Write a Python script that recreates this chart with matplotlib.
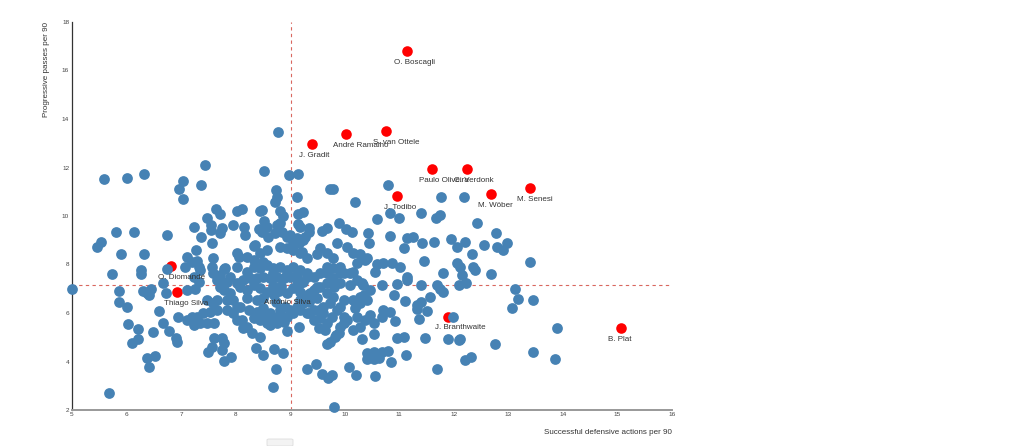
import matplotlib
matplotlib.use("Agg")
import matplotlib.pyplot as plt
from matplotlib.patches import FancyBboxPatch

plt.rcParams['font.family'] = ['Liberation Sans', 'DejaVu Sans']

x_label = "Successful defensive actions per 90"
y_label = "Progressive passes per 90"
x_ticks = list(range(5, 17))
y_ticks = list(range(2, 19, 2))
x_avg = 9.02
y_avg = 7.15

highlight_names = ['O. Boscagli', 'S. van Ottele', 'André Ramalho', 'J. Gradit',
                   'Paulo Oliveira', 'C. Verdonk', 'M. Senesi', 'M. Wöber',
                   'J. Todibo', 'O. Diomandé', 'Thiago Silva', 'António Silva',
                   'J. Branthwaite', 'B. Plat']
highlight_x = [11.15, 10.76, 10.03, 9.40, 11.60, 12.25, 13.40, 12.69,
               10.96, 6.82, 6.93, 8.76, 11.90, 15.06]
highlight_y = [16.80, 13.50, 13.38, 12.97, 11.94, 11.94, 11.15, 10.90,
               10.82, 7.94, 6.87, 6.90, 5.84, 5.38]

# other players: (defensive actions, progressive passes)
players_left = [
    (5.00, 6.99), (5.59, 11.51), (6.01, 11.58), (6.32, 11.72), (7.43, 12.09), (8.52, 11.86), (7.04, 11.46), (6.96, 11.13), (7.36, 11.27), (7.04, 10.71),
    (7.64, 10.28), (7.72, 10.08), (7.47, 9.93), (8.02, 10.19), (8.11, 10.30), (8.45, 10.22), (8.52, 9.78), (7.96, 9.64), (8.16, 9.56), (8.17, 9.22),
    (8.43, 9.45), (7.55, 9.62), (7.75, 9.49), (7.54, 9.42), (7.72, 9.31), (7.24, 9.56), (7.37, 9.12), (7.56, 8.90), (7.28, 8.60), (7.10, 8.32),
    (7.29, 8.16), (7.58, 8.27), (8.02, 8.46), (8.06, 8.32), (8.34, 8.76), (8.45, 8.46), (6.75, 9.22), (5.81, 9.35), (6.14, 9.35), (5.45, 8.71),
    (5.54, 8.94), (5.89, 8.43), (6.32, 8.43), (5.74, 7.60), (6.26, 7.77), (6.27, 7.61), (6.75, 7.80), (7.07, 7.88), (7.32, 7.91), (7.79, 7.83),
    (7.59, 7.64), (8.02, 7.91), (6.66, 7.25), (6.72, 6.81), (7.25, 7.00), (5.86, 6.89), (5.86, 6.47), (6.00, 6.26), (6.37, 6.81), (6.44, 6.98),
    (6.42, 6.73), (6.31, 6.89), (6.60, 6.10), (6.66, 5.58), (6.77, 5.26), (6.91, 4.96), (6.92, 4.82), (6.03, 5.53), (6.21, 5.33), (6.21, 4.92),
    (6.10, 4.78), (6.48, 5.23), (6.37, 4.13), (6.52, 4.23), (6.42, 3.79), (5.68, 2.69), (6.95, 5.82), (7.10, 5.71), (7.23, 5.50), (7.35, 5.58),
    (7.61, 5.58), (7.61, 4.96), (7.75, 4.98), (7.78, 4.78), (7.50, 4.40), (7.56, 4.58), (7.75, 4.47), (7.78, 4.03), (7.91, 4.17), (8.38, 4.57),
    (8.50, 4.27), (7.59, 6.40), (7.65, 6.12), (7.84, 6.12), (7.41, 5.99), (7.29, 5.85), (8.02, 5.71), (8.14, 5.37), (8.30, 5.16), (8.45, 5.02),
]
players_upper = [
    (7.96, 5.99), (8.78, 13.46), (8.97, 11.69), (9.15, 11.73), (8.74, 11.07), (8.76, 10.77), (8.72, 10.59), (9.13, 10.77), (8.49, 10.25), (8.82, 10.22),
    (8.87, 10.00), (9.15, 10.08), (9.24, 10.16), (8.82, 9.72), (8.76, 9.63), (9.15, 9.67), (9.18, 9.56), (9.35, 9.49), (8.57, 9.56), (8.48, 9.35),
    (9.73, 11.13), (9.78, 11.10), (10.19, 10.57), (10.80, 11.28), (10.59, 9.89), (10.83, 10.14), (10.99, 9.91), (11.39, 10.14), (11.68, 9.91), (11.75, 10.04),
    (11.77, 10.80), (12.19, 10.80), (9.89, 9.70), (10.03, 9.46), (10.13, 9.33), (9.58, 9.39), (9.67, 9.49), (9.86, 8.90), (10.42, 9.29), (10.44, 8.90),
    (10.83, 9.16), (11.14, 9.08), (11.26, 9.12), (11.08, 8.67), (11.42, 8.87), (11.45, 8.16), (11.64, 8.94), (11.94, 9.04), (12.06, 8.73), (12.21, 8.94),
    (12.06, 8.07), (11.81, 7.66), (11.14, 7.50), (9.50, 8.43), (9.21, 8.53), (8.94, 8.67), (8.82, 8.73), (9.00, 9.22), (9.12, 9.08), (9.24, 9.01),
    (10.28, 8.43), (10.41, 8.26), (10.22, 8.07), (9.67, 7.91), (9.92, 7.91), (9.98, 7.64), (10.16, 7.70), (10.59, 8.02), (10.71, 8.05), (10.87, 8.05),
    (11.02, 7.91), (9.55, 7.64), (12.43, 9.70), (12.77, 9.31), (12.56, 8.82), (12.79, 8.73), (12.90, 8.60), (12.97, 8.90), (12.33, 8.43), (13.39, 8.12),
    (12.36, 7.91), (12.12, 7.91), (12.69, 7.60), (12.15, 7.57), (12.38, 7.77), (12.23, 7.25), (13.13, 6.99), (13.18, 6.59), (13.06, 6.19), (13.45, 6.54),
    (13.90, 5.39), (12.75, 4.72), (12.12, 4.92), (12.21, 4.08), (12.31, 4.17), (13.45, 4.38), (13.86, 4.10), (8.95, 5.26), (9.17, 5.44), (8.71, 4.50),
]
players_lower = [
    (8.87, 4.34), (8.74, 3.70), (8.69, 2.96), (9.80, 2.14), (9.31, 3.69), (9.48, 3.90), (9.58, 3.47), (9.70, 3.31), (9.76, 3.44), (10.07, 3.79),
    (10.21, 3.43), (10.56, 3.40), (9.67, 4.72), (9.84, 5.09), (9.90, 5.19), (10.32, 4.92), (10.53, 5.12), (10.41, 4.34), (10.41, 4.09), (10.53, 4.40),
    (10.62, 4.31), (10.68, 4.40), (10.79, 4.43), (10.85, 3.99), (10.53, 4.09), (10.62, 4.13), (11.13, 4.27), (11.09, 5.02), (11.48, 4.96), (11.69, 3.68),
    (11.89, 4.93), (12.09, 4.89), (11.98, 5.82), (10.90, 6.74), (11.11, 6.51), (11.33, 6.15), (11.36, 5.74), (11.51, 6.08), (11.33, 6.33), (11.39, 6.47),
    (11.57, 6.67), (11.75, 7.01), (12.09, 7.16), (11.69, 7.16), (11.39, 7.16), (11.14, 7.36), (10.96, 7.20), (10.68, 7.16), (10.56, 7.70), (10.71, 6.12),
    (10.83, 6.05), (10.93, 5.68), (10.68, 5.85), (10.22, 5.85), (10.47, 5.92), (10.53, 5.58), (10.28, 5.44), (10.16, 5.30), (9.98, 5.58), (10.04, 5.71),
    (9.83, 5.02), (9.92, 5.44), (9.52, 5.37), (9.67, 5.58), (9.55, 5.78), (9.43, 5.71), (9.34, 5.99), (9.61, 5.99), (9.76, 5.85), (9.86, 6.12),
    (9.98, 5.85), (8.51, 5.99), (8.63, 5.85), (8.76, 5.85), (8.82, 6.12), (8.91, 6.26), (8.51, 7.50), (8.69, 7.64), (8.94, 7.64), (9.12, 7.57),
    (9.30, 7.50), (9.18, 7.23), (9.37, 6.81), (9.49, 7.09), (9.67, 7.23), (9.79, 7.43), (9.67, 7.64), (9.92, 7.64), (10.10, 7.64), (10.34, 7.16),
    (10.47, 6.95), (10.28, 6.67), (10.16, 6.54), (9.98, 6.54), (9.79, 6.67), (9.67, 6.81), (9.73, 6.40), (9.92, 6.26), (9.61, 6.26), (9.43, 6.12),
    (9.24, 6.40), (9.06, 5.99), (9.12, 6.26), (8.57, 5.58), (8.45, 5.71), (8.69, 5.71), (11.81, 6.86), (10.38, 8.19), (10.32, 7.23), (10.10, 7.16),
]
players_center = [
    (9.92, 7.23), (9.80, 7.09), (10.96, 4.96), (9.73, 4.82), (8.60, 9.15), (8.72, 9.29), (8.85, 9.35), (8.94, 9.15), (9.06, 8.94), (9.17, 8.87),
    (9.28, 9.15), (9.34, 9.35), (8.36, 8.80), (8.57, 8.60), (9.06, 8.60), (9.18, 8.46), (9.31, 8.26), (8.51, 8.12), (8.33, 8.19), (8.20, 8.32),
    (8.20, 7.70), (8.33, 7.91), (8.45, 7.84), (8.57, 7.98), (8.69, 7.84), (8.82, 7.91), (8.94, 7.77), (9.06, 7.91), (9.18, 7.77), (9.31, 7.64),
    (9.43, 7.50), (8.14, 7.36), (8.27, 7.43), (8.39, 7.43), (8.63, 7.43), (8.76, 7.50), (8.88, 7.43), (9.00, 7.50), (9.12, 7.36), (9.24, 7.29),
    (8.08, 7.09), (8.20, 6.95), (8.33, 7.16), (8.45, 7.02), (8.57, 6.88), (8.94, 6.81), (9.06, 7.02), (9.18, 6.88), (9.31, 6.74), (9.43, 6.95),
    (9.55, 7.09), (8.20, 6.60), (8.39, 6.54), (8.51, 6.60), (9.18, 6.54), (9.34, 6.47), (9.49, 6.60), (8.08, 6.26), (8.24, 6.12), (8.39, 6.05),
    (8.51, 6.19), (8.63, 5.99), (8.82, 5.92), (9.00, 6.12), (9.18, 6.12), (9.31, 5.99), (8.33, 5.78), (8.51, 5.78), (8.94, 5.85), (7.81, 7.84),
    (7.72, 7.57), (7.84, 7.29), (7.78, 6.95), (7.90, 6.81), (7.84, 6.54), (7.96, 6.54), (8.02, 6.26), (8.11, 5.71), (8.20, 5.44), (7.56, 7.91),
    (7.65, 7.36), (7.78, 7.23), (7.20, 8.12), (7.35, 7.77), (7.23, 7.50), (7.32, 7.29), (7.10, 6.95), (7.47, 5.58), (8.63, 5.50), (8.76, 5.58),
    (8.88, 5.64), (7.20, 5.85), (7.53, 6.05), (7.47, 6.54), (7.72, 7.08), (7.65, 6.54), (7.90, 7.50), (8.02, 7.23), (10.22, 7.36), (9.79, 7.84),
    (9.55, 8.67), (9.67, 8.46), (9.79, 8.26), (10.04, 8.73), (10.16, 8.46), (9.52, 6.12), (9.64, 5.30), (10.38, 5.71), (10.35, 6.74), (10.41, 6.54),
    (10.28, 6.40), (10.19, 6.19), (8.80, 6.92), (8.70, 6.75), (8.68, 7.10), (8.84, 7.12), (8.74, 6.45),
]

others = players_left + players_upper + players_lower + players_center
others_x = [p[0] for p in others]
others_y = [p[1] for p in others]

fig = plt.figure(figsize=(10.24, 4.46), dpi=100)
fig.patch.set_facecolor('white')
ax = fig.add_axes([72 / 1024, 36 / 446, 600 / 1024, 388 / 446])

ax.axvline(x_avg, color='#d9675f', lw=0.8, ls=(0, (3, 3)), zorder=1)
ax.axhline(y_avg, color='#d9675f', lw=0.8, ls=(0, (3, 3)), zorder=1)

ax.scatter(highlight_x, highlight_y, s=58, color='#ff0000', linewidths=0,
           zorder=2, clip_on=False)
ax.scatter(others_x, others_y, s=60, color='#4682b4', linewidths=0,
           zorder=3, clip_on=False)

for name, hx, hy in zip(highlight_names, highlight_x, highlight_y):
    ax.annotate(name, (hx, hy), xytext=(-9.4, -8), textcoords='offset points',
                ha='left', va='center', fontsize=5.8, color='#333333', zorder=5)

ax.set_xlim(5, 16)
ax.set_ylim(2, 18)
ax.set_xticks(x_ticks)
ax.set_yticks(y_ticks)
ax.tick_params(axis='both', length=0, labelsize=4.6, labelcolor='#444444')
ax.tick_params(axis='x', pad=1.5)
ax.tick_params(axis='y', pad=2)

for side in ['top', 'right']:
    ax.spines[side].set_visible(False)
ax.spines['left'].set_color('#333333')
ax.spines['left'].set_linewidth(0.9)
ax.spines['bottom'].set_color('#999999')
ax.spines['bottom'].set_linewidth(1.4)

fig.text(46 / 1024, 1 - 22 / 446, y_label, rotation=90, ha='center', va='top',
         fontsize=5.8, color='#333333')
fig.text(672 / 1024, 1 - 433 / 446, x_label, ha='right', va='center',
         fontsize=5.8, color='#333333')

fig.patches.append(FancyBboxPatch((267 / 1024, 0), 26 / 1024, 7 / 446,
                                  boxstyle='round,pad=0,rounding_size=0.002',
                                  transform=fig.transFigure, facecolor='#f3f3f3',
                                  edgecolor='#dddddd', linewidth=0.6))

fig.savefig('out.png', dpi=100)
